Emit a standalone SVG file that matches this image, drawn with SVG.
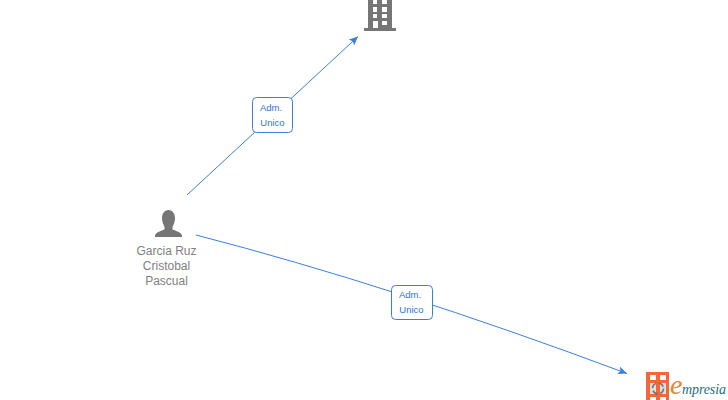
<svg xmlns="http://www.w3.org/2000/svg" width="728" height="400" viewBox="0 0 728 400">
<style>
.edge{fill:none;stroke:#3b7fdc;stroke-width:1}
.box{fill:#fff;stroke:#3b7fdc;stroke-width:1}
.el{font:9.500px "Liberation Sans",Arial,sans-serif;fill:#2f74d0;text-anchor:middle}
.nl{font:12px "Liberation Sans",Arial,sans-serif;fill:#808080;text-anchor:middle}
.g{fill:#767676}
</style>
<defs>
<marker id="a" markerUnits="userSpaceOnUse" markerWidth="10" markerHeight="10" refX="9" refY="4" orient="auto"><path d="M0 0L9 4L0 8L2 4Z" fill="#3b7fdc"/></marker>
</defs>
<rect width="728" height="400" fill="#fff"/>
<g id="connectors">
<path class="edge" d="M187 195L358 36.500" marker-end="url(#a)"/>
<path class="edge" d="M196 235Q390 285 627 373.500" marker-end="url(#a)"/>
</g>
<g id="edge-label-1">
<rect class="box" x="252.500" y="97.500" width="40" height="35" rx="4"/>
<text class="el" x="271" y="111">Adm.</text>
<text class="el" x="272.500" y="126">Unico</text>
</g>
<g id="edge-label-2">
<rect class="box" x="391.500" y="285.500" width="41" height="34" rx="4"/>
<text class="el" x="410" y="298">Adm.</text>
<text class="el" x="411.500" y="313">Unico</text>
</g>
<g id="node-company">
<path class="g" fill-rule="evenodd" d="M368 0H392V28H396V31H364V28H368ZM373 0V4H377V0ZM382 0V4H387V0ZM373 7V12H377V7ZM382 7V12H387V7ZM373 14V18H377V14ZM382 14V18H387V14ZM373 21V28H378V21ZM382 21V25H387V21Z"/>
</g>
<g id="node-person">
<path class="g" d="M168.500 210C172 210 175 213 175 218C175 222 173.500 225 172.500 227V229.500C176 231 181 232 182 235.500V237H155V235.500C156 232 161 231 164.500 229.500V227C163.500 225 162 222 162 218C162 213 165 210 168.500 210Z"/>
<text class="nl" x="166.500" y="255">Garcia Ruz</text>
<text class="nl" x="166.500" y="270">Cristobal</text>
<text class="nl" x="166.500" y="285">Pascual</text>
</g>
<g id="logo">
<rect x="646" y="372" width="23" height="28" fill="#f4673a"/>
<g fill="#fff">
<rect x="650" y="375" width="6" height="5"/><rect x="660" y="375" width="6" height="5"/>
<rect x="650" y="383" width="6" height="11" fill="#e4ded8"/><rect x="660" y="383" width="6" height="11" fill="#e4ded8"/>
<rect x="650" y="397" width="6" height="3"/><rect x="660" y="397" width="6" height="3"/>
</g>
<circle cx="658" cy="388.500" r="5.500" fill="none" stroke="#6a7479" stroke-width="1.500" stroke-dasharray="6 2.600"/>
<text x="670" y="394" font-family="Liberation Serif,serif" font-style="italic" font-size="28" fill="#e8862e">e</text>
<text x="682" y="393.500" font-family="Liberation Serif,serif" font-style="italic" font-size="14" fill="#1c6f80" textLength="44">mpresia</text>
</g>
</svg>
